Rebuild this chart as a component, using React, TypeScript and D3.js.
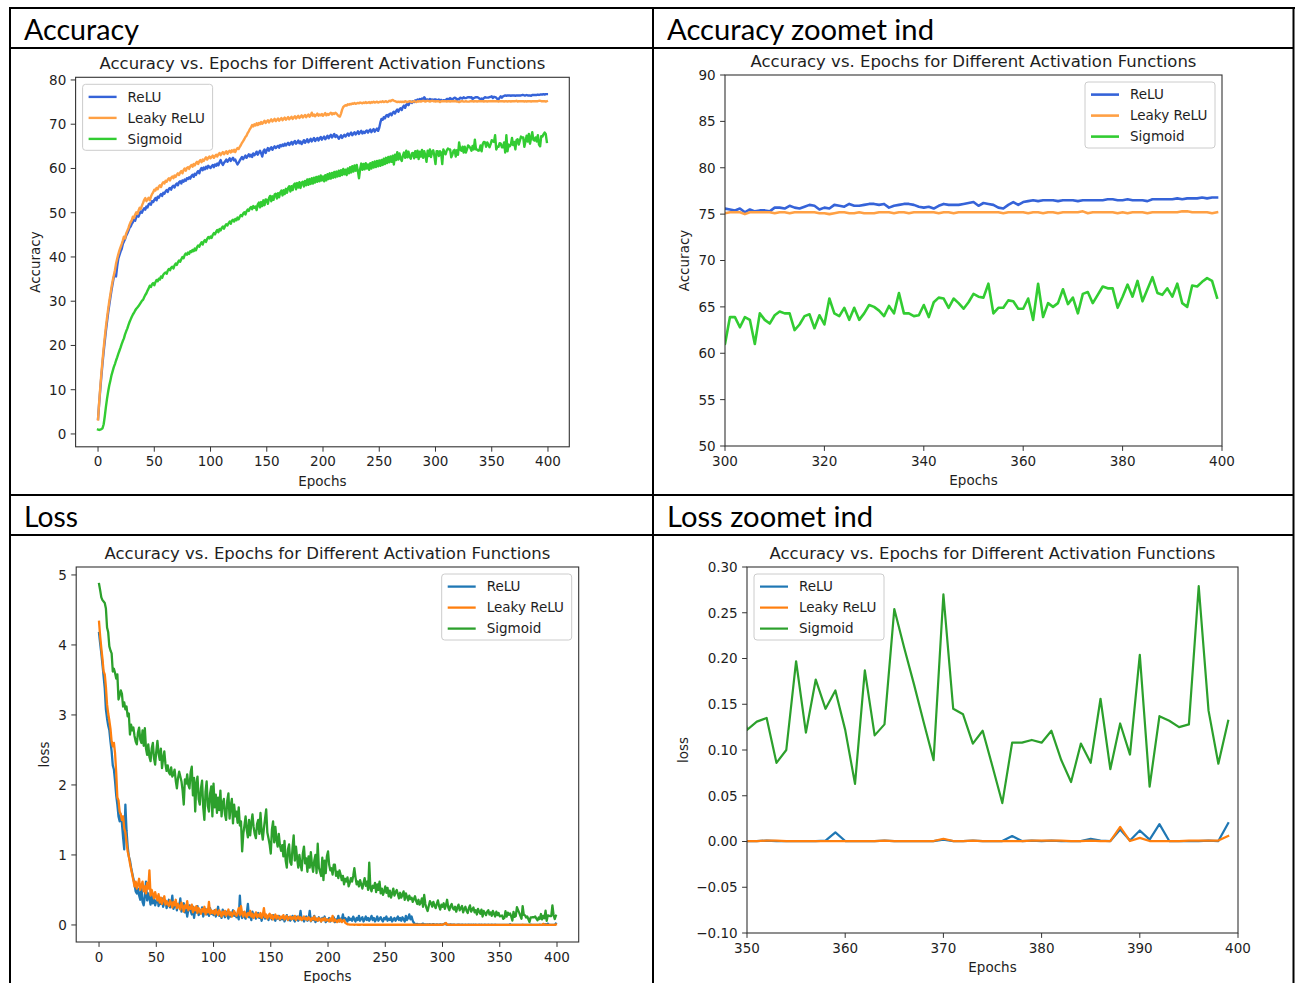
import React from "react";
import * as d3 from "d3";

// ---------------------------------------------------------------------------
// Training curves, one value per epoch (0..399)
// ---------------------------------------------------------------------------

const accRelu: number[] = [
  3.4, 6.9, 10.1, 13.2, 16.0, 18.6, 21.0, 23.3, 25.4, 27.4, 29.2, 30.9, 32.5, 34.0, 35.4, 36.0, 35.6, 37.9, 39.6, 40.4,
  41.2, 41.8, 42.9, 43.5, 44.0, 44.8, 45.3, 45.9, 46.6, 46.9, 47.5, 47.9, 48.4, 48.2, 49.0, 49.4, 49.1, 49.8, 50.3, 50.0,
  50.6, 51.0, 50.7, 51.4, 51.2, 51.9, 52.1, 51.8, 52.6, 52.4, 52.9, 53.3, 52.8, 53.6, 53.4, 53.9, 54.2, 53.8, 54.5, 54.3,
  54.8, 55.1, 54.7, 55.4, 55.6, 55.2, 55.9, 56.1, 55.7, 56.3, 56.6, 56.2, 56.9, 57.1, 56.6, 57.3, 57.0, 57.5, 57.2, 57.8,
  57.6, 58.0, 57.7, 58.3, 58.6, 58.1, 58.8, 58.5, 59.1, 59.4, 58.9, 59.7, 60.1, 59.6, 60.2, 59.8, 60.4, 60.0, 60.6, 60.3,
  60.1, 60.5, 60.8, 60.3, 60.9, 60.6, 61.1, 60.7, 61.4, 61.9, 61.2, 60.8, 61.3, 61.6, 62.0, 61.5, 61.9, 62.3, 61.7, 62.1,
  62.4, 61.8, 62.0, 61.4, 60.9, 61.3, 61.8, 62.2, 62.6, 62.1, 62.5, 62.9, 62.4, 62.8, 63.2, 62.7, 63.1, 62.6, 63.4, 63.0,
  63.3, 63.8, 63.1, 63.6, 64.0, 63.4, 62.7, 63.9, 64.3, 63.5, 64.1, 64.6, 64.0, 64.5, 64.8, 64.2, 64.7, 65.0, 64.6, 64.9,
  65.1, 64.7, 65.3, 65.0, 65.4, 65.1, 65.6, 65.2, 65.5, 65.8, 65.3, 65.7, 66.0, 65.4, 65.9, 66.2, 65.6, 65.9, 66.3, 65.7,
  66.1, 65.5, 65.9, 66.4, 65.8, 66.2, 66.6, 65.9, 66.3, 66.7, 66.1, 66.5, 66.9, 66.2, 66.6, 66.9, 66.3, 66.8, 67.1, 66.5,
  66.9, 67.2, 66.6, 67.0, 67.4, 66.8, 67.3, 67.6, 67.0, 67.4, 67.8, 67.1, 67.5, 67.2, 66.7, 67.1, 67.5, 66.9, 67.3, 67.6,
  67.2, 67.6, 67.9, 67.4, 67.8, 68.1, 67.5, 67.9, 68.2, 67.7, 68.0, 68.4, 67.8, 68.2, 68.5, 67.9, 68.3, 68.0, 68.4, 68.6,
  68.1, 68.5, 68.8, 68.2, 68.6, 68.9, 68.3, 68.7, 69.0, 68.5, 69.2, 70.4, 71.2, 71.0, 71.6, 71.3, 71.9, 72.1, 71.7, 72.3,
  72.4, 72.0, 72.6, 72.8, 72.4, 73.0, 73.3, 72.8, 73.4, 73.6, 73.2, 73.9, 74.2, 73.7, 74.4, 74.6, 74.3, 74.9, 75.1, 74.8,
  75.2, 75.0, 75.4, 75.3, 75.6, 75.4, 75.7, 75.5, 75.8, 75.6, 76.1, 75.7, 75.5, 75.6, 75.4, 75.7, 75.5, 75.6, 75.4, 75.6,
  75.6, 75.5, 75.4, 75.6, 75.2, 75.5, 75.3, 75.4, 75.4, 75.3, 75.7, 75.7, 75.6, 75.9, 75.7, 75.6, 75.8, 76.0, 75.9, 75.5,
  75.7, 75.6, 76.0, 75.9, 75.8, 76.1, 75.9, 75.9, 76.0, 76.1, 76.1, 76.0, 76.1, 75.7, 75.9, 76.0, 76.1, 76.1, 76.0, 75.8,
  75.7, 75.8, 75.6, 75.9, 76.1, 76.0, 76.0, 76.0, 76.1, 76.2, 76.3, 75.9, 76.2, 76.1, 76.0, 75.7, 75.6, 76.0, 76.3, 76.0,
  76.3, 76.4, 76.5, 76.4, 76.5, 76.5, 76.5, 76.4, 76.5, 76.5, 76.5, 76.4, 76.5, 76.5, 76.5, 76.5, 76.5, 76.6, 76.6, 76.5,
  76.5, 76.6, 76.5, 76.5, 76.5, 76.4, 76.6, 76.6, 76.6, 76.6, 76.6, 76.7, 76.6, 76.7, 76.7, 76.7, 76.8, 76.7, 76.8, 76.8,
];

const accLeaky: number[] = [
  3.3, 7.2, 10.6, 13.8, 16.7, 19.4, 21.9, 24.2, 26.3, 28.2, 30.0, 31.6, 33.2, 34.6, 35.8, 37.0, 38.5, 39.6, 40.6, 41.5,
  42.2, 42.9, 43.7, 44.6, 44.2, 45.3, 45.9, 46.5, 47.3, 47.9, 48.3, 49.1, 48.8, 49.6, 50.1, 49.7, 50.5, 51.1, 50.8, 51.6,
  52.2, 52.9, 53.3, 52.6, 53.0, 53.4, 52.8, 53.6, 54.2, 54.6, 55.2, 55.0, 55.6, 55.3, 55.9, 56.2, 55.8, 56.5, 56.9, 56.6,
  57.2, 57.0, 57.5, 57.8, 57.3, 57.9, 58.2, 57.8, 58.4, 58.1, 58.6, 58.9, 58.5, 59.1, 59.4, 58.9, 59.6, 60.0, 59.5, 60.1,
  60.3, 59.9, 60.5, 60.8, 60.4, 61.0, 60.7, 61.2, 61.5, 61.0, 61.6, 61.9, 61.4, 62.0, 61.7, 62.2, 62.5, 62.0, 62.4, 62.7,
  62.3, 62.6, 62.9, 62.4, 62.8, 63.1, 62.7, 63.2, 63.5, 63.0, 63.4, 63.7, 63.2, 63.6, 63.9, 63.3, 63.8, 64.0, 63.6, 64.1,
  63.8, 64.2, 63.7, 64.3, 64.6, 64.4, 64.9, 65.3, 65.8, 66.2, 66.6, 67.1, 67.4, 68.0, 68.4, 68.9, 69.3, 69.8, 69.5, 70.0,
  69.7, 70.2, 69.8, 70.3, 70.0, 70.5, 70.1, 70.4, 70.8, 70.3, 70.6, 70.9, 70.4, 70.8, 71.1, 70.6, 70.9, 71.2, 70.7, 71.0,
  71.3, 70.8, 71.1, 71.4, 70.9, 71.2, 71.5, 71.0, 71.3, 71.6, 71.1, 71.4, 71.7, 71.2, 71.5, 71.8, 71.3, 71.6, 71.9, 71.4,
  71.7, 72.0, 71.5, 71.8, 72.1, 71.6, 71.9, 72.2, 71.7, 72.0, 72.6, 71.9, 72.2, 71.8, 72.1, 72.4, 71.9, 72.2, 72.0, 72.3,
  71.9, 72.2, 72.5, 72.0, 72.3, 72.1, 72.4, 72.6, 72.2, 72.5, 72.3, 72.6, 72.4, 72.1, 71.8, 71.7, 72.4, 73.3, 73.9, 74.1,
  74.3, 74.2, 74.5, 74.4, 74.6, 74.5, 74.7, 74.6, 74.8, 74.6, 74.7, 74.8, 74.7, 74.9, 74.8, 74.7, 74.9, 74.8, 75.0, 74.8,
  74.9, 75.0, 74.8, 75.0, 74.9, 75.1, 74.9, 75.0, 75.1, 74.9, 75.0, 75.1, 75.0, 75.2, 75.0, 75.1, 75.2, 75.0, 75.1, 75.3,
  75.2, 75.4, 75.5, 75.3, 75.2, 75.1, 75.0, 75.1, 75.0, 75.1, 75.0, 75.1, 75.0, 75.2, 75.1, 75.0, 75.1, 75.2, 75.1, 75.0,
  75.1, 75.2, 75.1, 75.0, 75.2, 75.1, 75.2, 75.1, 75.2, 75.3, 75.2, 75.1, 75.2, 75.3, 75.2, 75.1, 75.2, 75.3, 75.2, 75.2,
  75.1, 75.2, 75.2, 75.2, 75.0, 75.2, 75.2, 75.2, 75.2, 75.2, 75.1, 75.2, 75.2, 75.1, 75.2, 75.2, 75.2, 75.2, 75.2, 75.1,
  75.1, 75.0, 75.1, 75.2, 75.2, 75.1, 75.1, 75.2, 75.1, 75.1, 75.1, 75.2, 75.2, 75.2, 75.1, 75.2, 75.2, 75.1, 75.2, 75.2,
  75.2, 75.2, 75.2, 75.1, 75.2, 75.2, 75.1, 75.2, 75.2, 75.2, 75.2, 75.2, 75.2, 75.2, 75.2, 75.2, 75.1, 75.2, 75.2, 75.2,
  75.2, 75.1, 75.2, 75.2, 75.1, 75.2, 75.2, 75.1, 75.2, 75.2, 75.2, 75.2, 75.3, 75.1, 75.2, 75.2, 75.2, 75.2, 75.2, 75.1,
  75.2, 75.1, 75.2, 75.2, 75.2, 75.1, 75.2, 75.2, 75.2, 75.2, 75.2, 75.2, 75.3, 75.3, 75.2, 75.2, 75.2, 75.2, 75.1, 75.2,
];

const accSigmoid: number[] = [
  1.0, 0.9, 1.0, 1.1, 1.3, 2.2, 4.0, 6.1, 8.0, 9.6, 11.0, 12.1, 13.3, 14.2, 15.1, 15.8, 16.6, 17.3, 18.1, 18.8,
  19.5, 20.3, 21.0, 21.6, 22.5, 23.2, 23.8, 24.6, 25.3, 25.9, 26.5, 27.0, 27.4, 27.9, 28.3, 28.6, 28.9, 29.3, 29.7, 30.1,
  30.3, 30.9, 31.4, 31.8, 32.4, 32.9, 33.5, 33.2, 33.8, 34.1, 33.6, 34.3, 34.8, 34.5, 35.1, 34.9, 35.6, 35.3, 36.0, 36.3,
  36.5, 36.2, 36.9, 37.3, 37.0, 37.6, 37.8, 37.4, 38.1, 38.5, 38.2, 38.8, 39.2, 38.9, 39.5, 40.0, 39.7, 40.4, 40.8, 40.5,
  41.0, 40.7, 41.3, 41.1, 41.6, 41.3, 41.9, 41.5, 42.2, 42.6, 42.3, 42.9, 43.3, 42.8, 43.5, 43.8, 43.4, 44.1, 44.5, 44.2,
  44.6, 44.3, 45.0, 45.4, 45.1, 45.7, 46.1, 45.6, 46.3, 46.0, 46.6, 46.9, 46.4, 47.0, 47.4, 47.1, 47.6, 48.0, 47.5, 48.2,
  48.4, 48.0, 48.6, 48.3, 48.9, 48.5, 49.1, 49.5, 49.2, 49.8, 50.1, 49.6, 50.3, 50.7, 50.4, 51.0, 51.3, 50.8, 51.5, 51.1,
  51.4, 50.6, 51.9, 52.3, 51.2, 52.4, 51.5, 52.8, 51.7, 53.0, 52.9, 52.0, 53.3, 53.8, 52.6, 53.7, 52.9, 54.1, 54.3, 53.2,
  54.4, 53.5, 54.6, 55.0, 53.9, 55.1, 54.2, 55.4, 54.5, 55.6, 56.0, 54.8, 56.0, 55.1, 56.3, 56.6, 55.3, 56.7, 55.7, 56.9,
  55.6, 56.8, 57.0, 55.9, 57.2, 56.2, 57.5, 56.3, 57.6, 56.5, 57.8, 56.6, 57.9, 56.8, 58.1, 57.0, 58.2, 57.1, 58.4, 57.3,
  58.2, 57.1, 58.5, 57.3, 58.7, 57.6, 58.9, 57.7, 59.0, 57.9, 59.2, 58.0, 59.3, 58.2, 59.5, 58.3, 59.6, 58.5, 59.9, 58.7,
  59.7, 58.5, 60.0, 58.9, 60.3, 59.1, 60.5, 59.3, 60.7, 59.5, 60.8, 59.4, 57.8, 59.9, 61.1, 59.7, 61.0, 59.8, 61.2, 60.0,
  60.9, 59.7, 61.2, 60.0, 61.4, 60.2, 61.6, 60.3, 61.7, 60.5, 61.8, 60.6, 61.9, 60.8, 62.2, 61.0, 62.4, 61.2, 62.6, 61.4,
  62.7, 61.5, 62.9, 60.9, 63.1, 61.9, 63.7, 62.0, 63.4, 62.2, 61.7, 62.9, 63.6, 62.4, 64.0, 62.5, 63.8, 62.6, 62.2, 63.4,
  63.5, 62.3, 63.9, 62.6, 64.0, 62.1, 63.8, 62.7, 64.2, 62.4, 63.9, 62.9, 61.5, 64.0, 62.8, 64.3, 62.6, 63.8, 64.1, 62.8,
  61.0, 63.9, 63.9, 62.8, 63.9, 63.6, 61.0, 64.3, 63.6, 63.2, 64.1, 64.5, 64.3, 64.3, 62.5, 63.1, 64.0, 64.2, 62.7, 64.1,
  63.1, 65.9, 64.3, 64.0, 64.9, 63.6, 64.9, 63.6, 64.3, 65.2, 65.0, 64.6, 64.0, 65.1, 64.3, 66.5, 64.3, 64.3, 64.0, 64.1,
  65.2, 63.9, 65.5, 66.0, 65.9, 64.9, 65.9, 65.4, 64.8, 65.5, 66.4, 66.1, 66.0, 67.5, 64.3, 64.9, 64.9, 65.7, 65.6, 64.8,
  64.8, 65.9, 63.6, 67.5, 63.9, 65.4, 65.0, 65.4, 66.9, 65.3, 66.0, 64.3, 66.4, 66.6, 65.4, 66.3, 67.2, 67.0, 67.0, 64.9,
  66.1, 67.4, 66.1, 67.8, 65.6, 66.9, 68.2, 66.5, 66.3, 67.0, 66.1, 67.5, 65.4, 65.0, 67.3, 67.2, 67.7, 68.1, 67.8, 66.0,
];

const lossRelu: number[] = [
  4.17, 4.02, 3.88, 3.72, 3.55, 3.38, 3.08, 2.95, 2.85, 2.78, 2.62, 2.48, 2.28, 2.22, 2.05, 1.85, 1.72, 1.55, 1.48, 1.58,
  1.45, 1.25, 1.08, 1.72, 1.35, 1.12, 0.98, 0.92, 0.82, 0.74, 0.66, 0.58, 0.48, 0.45, 0.52, 0.42, 0.36, 0.55, 0.33, 0.28,
  0.41, 0.62, 0.35, 0.45, 0.38, 0.29, 0.46, 0.31, 0.36, 0.28, 0.34, 0.40, 0.27, 0.33, 0.30, 0.38, 0.26, 0.31, 0.35, 0.24,
  0.30, 0.36, 0.25, 0.29, 0.42, 0.23, 0.28, 0.33, 0.21, 0.30, 0.26, 0.38, 0.19, 0.25, 0.31, 0.18, 0.24, 0.12, 0.22, 0.28,
  0.20, 0.15, 0.26, 0.10, 0.22, 0.18, 0.27, 0.14, 0.21, 0.17, 0.25, 0.12, 0.19, 0.23, 0.15, 0.20, 0.13, 0.24, 0.16, 0.19,
  0.14, 0.21, 0.12, 0.18, 0.26, 0.13, 0.17, 0.10, 0.22, 0.15, 0.11, 0.19, 0.14, 0.09, 0.18, 0.12, 0.16, 0.21, 0.13, 0.17,
  0.11, 0.15, 0.08, 0.42, 0.14, 0.10, 0.18, 0.12, 0.09, 0.16, 0.30, 0.11, 0.14, 0.07, 0.19, 0.12, 0.15, 0.09, 0.13, 0.17,
  0.10, 0.14, 0.06, 0.12, 0.18, 0.09, 0.13, 0.10, 0.07, 0.15, 0.11, 0.08, 0.14, 0.10, 0.06, 0.12, 0.09, 0.13, 0.07, 0.11,
  0.08, 0.12, 0.05, 0.10, 0.14, 0.07, 0.11, 0.06, 0.09, 0.13, 0.08, 0.05, 0.10, 0.12, 0.06, 0.09, 0.20, 0.07, 0.10, 0.05,
  0.09, 0.12, 0.06, 0.08, 0.20, 0.05, 0.10, 0.07, 0.13, 0.04, 0.09, 0.06, 0.11, 0.08, 0.05, 0.10, 0.07, 0.12, 0.04, 0.08,
  0.06, 0.10, 0.05, 0.09, 0.07, 0.11, 0.04, 0.08, 0.06, 0.13, 0.05, 0.09, 0.07, 0.15, 0.06, 0.10, 0.08, 0.05, 0.11, 0.07,
  0.09, 0.06, 0.12, 0.08, 0.05, 0.10, 0.07, 0.13, 0.06, 0.09, 0.11, 0.05, 0.08, 0.12, 0.07, 0.10, 0.06, 0.09, 0.13, 0.07,
  0.10, 0.05, 0.08, 0.12, 0.06, 0.09, 0.11, 0.07, 0.05, 0.10, 0.08, 0.12, 0.06, 0.09, 0.07, 0.11, 0.05, 0.08, 0.10, 0.06,
  0.09, 0.12, 0.07, 0.10, 0.06, 0.11, 0.08, 0.05, 0.13, 0.07, 0.10, 0.15, 0.08, 0.12, 0.06, 0.03, 0.012, 0.008, 0.015, 0.006,
  0.010, 0.006, 0.012, 0.018, 0.005, 0.008, 0.004, 0.009, 0.006, 0.011, 0.004, 0.007, 0.012, 0.005, 0.003, 0.008, 0.004, 0.006, 0.010, 0.004,
  0.006, 0.012, 0.022, 0.009, 0.004, 0.003, 0.005, 0.008, 0.003, 0.004, 0.006, 0.003, 0.002, 0.005, 0.003, 0.004, 0.002, 0.006, 0.003, 0.002,
  0.004, 0.002, 0.003, 0.005, 0.002, 0.003, 0.002, 0.004, 0.002, 0.003, 0.002, 0.002, 0.004, 0.002, 0.003, 0.002, 0.002, 0.003, 0.002, 0.002,
  0.003, 0.002, 0.002, 0.004, 0.002, 0.002, 0.003, 0.002, 0.002, 0.002, 0.0005, 0.0005, 0.001, 0.0005, 0.0005, 0.0005, 0.0005, 0.0005, 0.001, 0.010,
  0.0005, 0.0005, 0.0005, 0.0005, 0.001, 0.0005, 0.0005, 0.0005, 0.0005, 0.0005, 0.002, 0.0005, 0.0005, 0.001, 0.0005, 0.0005, 0.0005, 0.006, 0.0005, 0.001,
  0.0005, 0.001, 0.0005, 0.0005, 0.0005, 0.003, 0.001, 0.0005, 0.013, 0.001, 0.012, 0.002, 0.019, 0.0005, 0.0005, 0.0005, 0.0005, 0.001, 0.0005, 0.020,
];

const lossLeaky: number[] = [
  4.33, 4.12, 3.95, 3.80, 3.62, 3.58, 3.40, 3.15, 3.02, 2.92, 2.80, 2.62, 2.55, 2.60, 2.45, 2.18, 1.82, 1.78, 1.62, 1.58,
  1.50, 1.55, 1.38, 1.32, 1.18, 1.05, 0.98, 0.88, 0.80, 0.72, 0.64, 0.55, 0.62, 0.52, 0.58, 0.66, 0.50, 0.56, 0.62, 0.48,
  0.55, 0.45, 0.60, 0.52, 0.78, 0.42, 0.50, 0.44, 0.38, 0.47, 0.40, 0.35, 0.44, 0.32, 0.39, 0.30, 0.36, 0.41, 0.29, 0.34,
  0.30, 0.27, 0.35, 0.31, 0.25, 0.33, 0.28, 0.36, 0.24, 0.30, 0.26, 0.22, 0.32, 0.27, 0.19, 0.28, 0.24, 0.34, 0.21, 0.26,
  0.23, 0.29, 0.18, 0.25, 0.21, 0.27, 0.17, 0.24, 0.20, 0.16, 0.23, 0.19, 0.26, 0.15, 0.22, 0.18, 0.33, 0.16, 0.21, 0.17,
  0.20, 0.15, 0.22, 0.18, 0.14, 0.21, 0.17, 0.12, 0.19, 0.15, 0.20, 0.13, 0.17, 0.22, 0.14, 0.18, 0.12, 0.16, 0.20, 0.15,
  0.13, 0.18, 0.24, 0.14, 0.27, 0.16, 0.12, 0.19, 0.15, 0.11, 0.17, 0.14, 0.20, 0.12, 0.16, 0.10, 0.14, 0.18, 0.11, 0.15,
  0.12, 0.17, 0.10, 0.14, 0.24, 0.11, 0.15, 0.09, 0.13, 0.16, 0.10, 0.14, 0.08, 0.12, 0.15, 0.09, 0.13, 0.11, 0.08, 0.12,
  0.10, 0.14, 0.08, 0.11, 0.13, 0.07, 0.10, 0.12, 0.08, 0.11, 0.09, 0.13, 0.07, 0.10, 0.12, 0.08, 0.11, 0.07, 0.09, 0.12,
  0.08, 0.10, 0.07, 0.11, 0.09, 0.06, 0.10, 0.08, 0.12, 0.07, 0.09, 0.06, 0.10, 0.08, 0.05, 0.09, 0.07, 0.10, 0.06, 0.08,
  0.07, 0.05, 0.09, 0.06, 0.13, 0.05, 0.08, 0.06, 0.04, 0.07, 0.05, 0.08, 0.04, 0.06, 0.07, 0.03, 0.02, 0.01, 0.008, 0.005,
  0.006, 0.004, 0.005, 0.003, 0.004, 0.005, 0.003, 0.004, 0.003, 0.005, 0.004, 0.003, 0.004, 0.003, 0.005, 0.003, 0.004, 0.003, 0.004, 0.003,
  0.004, 0.003, 0.004, 0.003, 0.003, 0.004, 0.003, 0.003, 0.004, 0.003, 0.003, 0.004, 0.003, 0.003, 0.003, 0.004, 0.003, 0.003, 0.003, 0.003,
  0.003, 0.003, 0.004, 0.003, 0.003, 0.003, 0.003, 0.004, 0.003, 0.003, 0.003, 0.003, 0.003, 0.003, 0.004, 0.003, 0.003, 0.003, 0.003, 0.003,
  0.003, 0.003, 0.003, 0.003, 0.003, 0.002, 0.003, 0.003, 0.003, 0.003, 0.002, 0.003, 0.003, 0.003, 0.002, 0.003, 0.003, 0.002, 0.003, 0.003,
  0.003, 0.008, 0.015, 0.030, 0.006, 0.003, 0.002, 0.003, 0.002, 0.002, 0.003, 0.002, 0.002, 0.002, 0.003, 0.002, 0.002, 0.002, 0.002, 0.002,
  0.002, 0.002, 0.002, 0.002, 0.002, 0.002, 0.002, 0.002, 0.002, 0.002, 0.002, 0.002, 0.002, 0.002, 0.002, 0.002, 0.002, 0.002, 0.002, 0.002,
  0.002, 0.002, 0.002, 0.002, 0.002, 0.001, 0.001, 0.001, 0.001, 0.001, 0.0005, 0.0005, 0.001, 0.001, 0.0005, 0.0005, 0.0005, 0.0005, 0.0005, 0.0005,
  0.0005, 0.0005, 0.0005, 0.0005, 0.001, 0.0005, 0.0005, 0.0005, 0.0005, 0.0005, 0.003, 0.0005, 0.0005, 0.001, 0.0005, 0.0005, 0.0005, 0.0005, 0.0005, 0.001,
  0.001, 0.001, 0.001, 0.0005, 0.0005, 0.001, 0.0005, 0.0005, 0.016, 0.0005, 0.004, 0.0005, 0.0005, 0.0005, 0.0005, 0.001, 0.001, 0.001, 0.001, 0.006,
];

const lossSigmoid: number[] = [
  4.87, 4.78, 4.68, 4.64, 4.62, 4.60, 4.52, 4.25, 4.18, 3.98, 3.92, 3.88, 3.62, 3.66, 3.60, 3.52, 3.58, 3.22, 3.28, 3.35,
  3.30, 3.12, 3.18, 3.08, 3.12, 2.98, 3.02, 2.72, 2.86, 2.78, 2.82, 2.70, 2.62, 2.58, 2.75, 2.82, 2.65, 2.60, 2.78, 2.56,
  2.81, 2.52, 2.43, 2.58, 2.40, 2.34, 2.52, 2.60, 2.38, 2.29, 2.48, 2.63, 2.45, 2.36, 2.52, 2.24, 2.38, 2.48, 2.30, 2.20,
  2.28, 2.18, 2.15, 2.25, 2.12, 2.15, 2.22, 2.06, 1.95, 2.10, 2.19, 2.12, 2.05, 1.92, 1.72, 2.08, 2.02, 2.15, 2.00, 1.95,
  2.18, 2.26, 1.85, 2.10, 1.62, 2.02, 2.12, 1.80, 1.72, 1.95, 2.06, 1.68, 1.50, 1.90, 2.05, 1.70, 1.62, 1.88, 1.98, 1.55,
  2.02, 1.68, 1.86, 1.60, 1.82, 1.64, 1.92, 1.55, 1.74, 1.80, 1.58, 1.50, 1.78, 1.88, 1.52, 1.70, 1.80, 1.45, 1.72, 1.55,
  1.62, 1.46, 1.68, 1.42, 1.48, 1.05, 1.30, 1.42, 1.55, 1.36, 1.25, 1.50, 1.28, 1.45, 1.58, 1.40, 1.30, 1.24, 1.44, 1.50,
  1.30, 1.60, 1.35, 1.22, 1.38, 1.52, 1.65, 1.32, 1.24, 1.15, 1.02, 1.36, 1.48, 1.18, 1.40, 1.22, 1.12, 1.30, 1.14, 1.06,
  1.14, 0.98, 1.20, 0.92, 0.82, 1.08, 1.15, 0.90, 0.86, 1.10, 1.28, 0.92, 1.12, 0.95, 0.82, 1.00, 0.86, 0.78, 1.02, 1.12,
  0.88, 0.95, 0.76, 0.98, 0.82, 1.04, 0.86, 0.76, 0.92, 1.00, 0.74, 1.16, 0.82, 0.76, 0.70, 0.96, 0.64, 0.92, 0.74, 0.98,
  1.05, 0.86, 0.78, 0.81, 0.72, 0.86, 0.86, 0.70, 0.76, 0.67, 0.78, 0.72, 0.64, 0.70, 0.58, 0.66, 0.62, 0.68, 0.55, 0.60,
  0.67, 0.62, 0.70, 0.81, 0.68, 0.58, 0.62, 0.55, 0.64, 0.58, 0.52, 0.60, 0.67, 0.56, 0.62, 0.50, 0.89, 0.53, 0.48, 0.56,
  0.53, 0.60, 0.47, 0.58, 0.50, 0.62, 0.45, 0.52, 0.43, 0.48, 0.55, 0.46, 0.53, 0.41, 0.49, 0.39, 0.45, 0.52, 0.42, 0.47,
  0.50, 0.44, 0.38, 0.46, 0.39, 0.43, 0.48, 0.36, 0.45, 0.40, 0.35, 0.42, 0.37, 0.39, 0.33, 0.37, 0.41, 0.34, 0.30, 0.36,
  0.29, 0.32, 0.38, 0.26, 0.43, 0.30, 0.24, 0.20, 0.27, 0.34, 0.31, 0.26, 0.33, 0.28, 0.24, 0.30, 0.35, 0.27, 0.22, 0.29,
  0.26, 0.31, 0.23, 0.28, 0.36, 0.25, 0.21, 0.27, 0.30, 0.24, 0.22, 0.26, 0.19, 0.25, 0.29, 0.21, 0.24, 0.27, 0.18, 0.23,
  0.26, 0.20, 0.17, 0.24, 0.28, 0.19, 0.22, 0.25, 0.18, 0.21, 0.15, 0.23, 0.19, 0.16, 0.22, 0.12, 0.20, 0.17, 0.14, 0.19,
  0.21, 0.15, 0.18, 0.13, 0.20, 0.16, 0.12, 0.19, 0.14, 0.17, 0.122, 0.131, 0.135, 0.086, 0.100, 0.197, 0.119, 0.177, 0.145, 0.165,
  0.122, 0.063, 0.187, 0.116, 0.128, 0.254, 0.212, 0.172, 0.130, 0.089, 0.270, 0.145, 0.139, 0.107, 0.121, 0.082, 0.042, 0.108, 0.108, 0.111,
  0.108, 0.121, 0.089, 0.065, 0.107, 0.086, 0.156, 0.079, 0.129, 0.095, 0.204, 0.060, 0.137, 0.132, 0.125, 0.128, 0.279, 0.143, 0.085, 0.132,
];

// ---------------------------------------------------------------------------
// Labels, ticks, colours
// ---------------------------------------------------------------------------

const seriesNames = ["ReLU", "Leaky ReLU", "Sigmoid"];
const accColors = ["#3563d8", "#ffa044", "#32cc32"];
const lossColors = ["#1f77b4", "#ff7f0e", "#2ca02c"];

const fullEpochTicks = [0, 50, 100, 150, 200, 250, 300, 350, 400];
const accYTicks = [0, 10, 20, 30, 40, 50, 60, 70, 80];
const accZoomXTicks = [300, 320, 340, 360, 380, 400];
const accZoomYTicks = [50, 55, 60, 65, 70, 75, 80, 85, 90];
const lossYTicks = [0, 1, 2, 3, 4, 5];
const lossZoomXTicks = [350, 360, 370, 380, 390, 400];
const lossZoomYTicks = [-0.1, -0.05, 0, 0.05, 0.1, 0.15, 0.2, 0.25, 0.3];

const sectionTitles = ["Accuracy", "Accuracy zoomet ind", "Loss", "Loss zoomet ind"];
const chartTitle = "Accuracy vs. Epochs for Different Activation Functions";

const FONT = "'DejaVu Sans', sans-serif";
const INK = "#1e1e1e";

type PanelProps = {
  id: string;
  left: number;
  right: number;
  top: number;
  bottom: number;
  xDomain: [number, number];
  yDomain: [number, number];
  xTicks: number[];
  yTicks: number[];
  yFormat: (v: number) => string;
  series: number[][];
  colors: string[];
  yLabel: string;
  yLabelX: number;
  legend: "ul" | "ur";
  lineWidth: number;
};

function Panel(p: PanelProps) {
  const x = d3.scaleLinear().domain(p.xDomain).range([p.left, p.right]);
  const y = d3.scaleLinear().domain(p.yDomain).range([p.bottom, p.top]);
  const line = d3
    .line<number>()
    .x((_, i) => x(i))
    .y((d) => y(d));

  const fs = 13.5;
  const tickLen = 4.9;
  const legW = 130;
  const legH = 66;
  const legX = p.legend === "ul" ? p.left + 7 : p.right - 7 - legW;
  const legY = p.top + 7;
  const cx = (p.left + p.right) / 2;
  const cy = (p.top + p.bottom) / 2;

  return (
    <g fontFamily={FONT} fill={INK}>
      <defs>
        <clipPath id={p.id}>
          <rect x={p.left} y={p.top} width={p.right - p.left} height={p.bottom - p.top} />
        </clipPath>
      </defs>

      <g clipPath={`url(#${p.id})`}>
        {p.series.map((s, k) => (
          <path
            key={k}
            d={line(s) ?? ""}
            fill="none"
            stroke={p.colors[k]}
            strokeWidth={p.lineWidth}
            strokeLinejoin="round"
            strokeLinecap="square"
          />
        ))}
      </g>

      <rect
        x={p.left}
        y={p.top}
        width={p.right - p.left}
        height={p.bottom - p.top}
        fill="none"
        stroke="#333"
        strokeWidth={1.1}
      />

      {p.xTicks.map((t) => (
        <g key={`x${t}`}>
          <line x1={x(t)} x2={x(t)} y1={p.bottom} y2={p.bottom + tickLen} stroke="#333" strokeWidth={1} />
          <text x={x(t)} y={p.bottom + 19.6} textAnchor="middle" fontSize={fs}>
            {t}
          </text>
        </g>
      ))}

      {p.yTicks.map((t) => (
        <g key={`y${t}`}>
          <line x1={p.left - tickLen} x2={p.left} y1={y(t)} y2={y(t)} stroke="#333" strokeWidth={1} />
          <text x={p.left - 9.3} y={y(t) + 4.9} textAnchor="end" fontSize={fs}>
            {p.yFormat(t)}
          </text>
        </g>
      ))}

      <text x={cx} y={p.top - 8} textAnchor="middle" fontSize={16.5}>
        {chartTitle}
      </text>
      <text x={cx} y={p.bottom + 39} textAnchor="middle" fontSize={fs}>
        Epochs
      </text>
      <text
        transform={`translate(${p.yLabelX},${cy}) rotate(-90)`}
        textAnchor="middle"
        fontSize={fs}
      >
        {p.yLabel}
      </text>

      <g>
        <rect
          x={legX}
          y={legY}
          width={legW}
          height={legH}
          rx={3}
          fill="#fff"
          fillOpacity={0.8}
          stroke="#cccccc"
          strokeWidth={1}
        />
        {seriesNames.map((name, k) => {
          const ry = legY + 12.6 + k * 21;
          return (
            <g key={name}>
              <line
                x1={legX + 6}
                x2={legX + 34}
                y1={ry}
                y2={ry}
                stroke={p.colors[k]}
                strokeWidth={p.lineWidth}
              />
              <text x={legX + 45} y={ry + 4.8} fontSize={fs}>
                {name}
              </text>
            </g>
          );
        })}
      </g>
    </g>
  );
}

const intFmt = (v: number) => String(v);
const lossZoomFmt = d3.format(".2f");

export default function App() {
  const accSeries = [accRelu, accLeaky, accSigmoid];
  const lossSeries = [lossRelu, lossLeaky, lossSigmoid];

  return (
    <svg
      width={1295}
      height={983}
      viewBox="0 0 1295 983"
      style={{ position: "absolute", left: 0, top: 0, background: "#fff" }}
    >
      <rect x={0} y={0} width={1295} height={983} fill="#fff" />

      {/* document table frame */}
      <g stroke="#000" strokeWidth={2}>
        <line x1={9} x2={1295} y1={8} y2={8} />
        <line x1={10} x2={1294} y1={48} y2={48} />
        <line x1={10} x2={1294} y1={495} y2={495} />
        <line x1={10} x2={1294} y1={535} y2={535} />
        <line x1={10} x2={10} y1={7} y2={983} />
        <line x1={653} x2={653} y1={7} y2={983} />
        <line x1={1293.5} x2={1293.5} y1={7} y2={983} />
      </g>

      <g fontFamily="Lato, 'Open Sans', sans-serif" fontSize={29} fill="#000">
        <text x={24} y={40} textLength={115} lengthAdjust="spacingAndGlyphs">
          {sectionTitles[0]}
        </text>
        <text x={667} y={40} textLength={267} lengthAdjust="spacingAndGlyphs">
          {sectionTitles[1]}
        </text>
        <text x={24} y={527} textLength={54} lengthAdjust="spacingAndGlyphs">
          {sectionTitles[2]}
        </text>
        <text x={667} y={527} textLength={206} lengthAdjust="spacingAndGlyphs">
          {sectionTitles[3]}
        </text>
      </g>

      <Panel
        id="clip-acc"
        left={75.6}
        right={569.3}
        top={77.3}
        bottom={446.8}
        xDomain={[-19.95, 418.95]}
        yDomain={[-2.9, 80.6]}
        xTicks={fullEpochTicks}
        yTicks={accYTicks}
        yFormat={intFmt}
        series={accSeries}
        colors={accColors}
        yLabel="Accuracy"
        yLabelX={40}
        legend="ul"
        lineWidth={2.4}
      />

      <Panel
        id="clip-acc-zoom"
        left={725}
        right={1222}
        top={75}
        bottom={446}
        xDomain={[300, 400]}
        yDomain={[50, 90]}
        xTicks={accZoomXTicks}
        yTicks={accZoomYTicks}
        yFormat={intFmt}
        series={accSeries}
        colors={accColors}
        yLabel="Accuracy"
        yLabelX={689}
        legend="ur"
        lineWidth={2.6}
      />

      <Panel
        id="clip-loss"
        left={76.2}
        right={578.7}
        top={567}
        bottom={942}
        xDomain={[-19.95, 418.95]}
        yDomain={[-0.2435, 5.1135]}
        xTicks={fullEpochTicks}
        yTicks={lossYTicks}
        yFormat={intFmt}
        series={lossSeries}
        colors={lossColors}
        yLabel="loss"
        yLabelX={49}
        legend="ur"
        lineWidth={2.3}
      />

      <Panel
        id="clip-loss-zoom"
        left={747}
        right={1238}
        top={567}
        bottom={933}
        xDomain={[350, 400]}
        yDomain={[-0.1, 0.3]}
        xTicks={lossZoomXTicks}
        yTicks={lossZoomYTicks}
        yFormat={(v) => lossZoomFmt(v)}
        series={lossSeries}
        colors={lossColors}
        yLabel="loss"
        yLabelX={688}
        legend="ul"
        lineWidth={2.2}
      />
    </svg>
  );
}
